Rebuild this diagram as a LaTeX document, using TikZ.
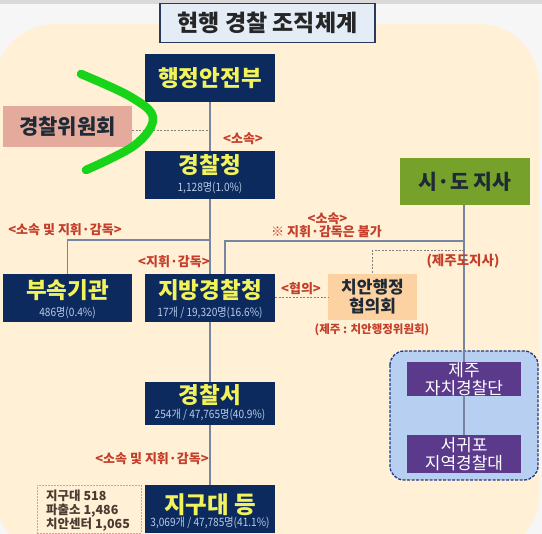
\documentclass[tikz,border=0pt]{standalone}
\usepackage{fontspec}
\usepackage{graphicx}
\setmainfont{Noto Sans CJK KR}
\definecolor{navyc}{HTML}{0C2A5E}
\definecolor{ylw}{HTML}{F2F25A}
\definecolor{subc}{HTML}{B8CBE8}
\definecolor{salmon}{HTML}{E4AA9C}
\definecolor{grn}{HTML}{76A22C}
\definecolor{orng}{HTML}{FDD2A2}
\definecolor{purp}{HTML}{5B3A8C}
\definecolor{jejubg}{HTML}{B7CFF0}
\definecolor{jejubd}{HTML}{1F3A8A}
\definecolor{redc}{HTML}{C43E2A}
\definecolor{linec}{HTML}{7585A2}
\definecolor{cream}{HTML}{FFF0D6}
\definecolor{pagebg}{HTML}{F6F6F6}
\definecolor{titlebg}{HTML}{E4ECF6}
\definecolor{titlebd}{HTML}{2A3A5A}
\definecolor{darkt}{HTML}{1F2A36}
\definecolor{marker}{HTML}{18D418}
\definecolor{notec}{HTML}{4A3A30}
\definecolor{notebd}{HTML}{D8A090}
\newcommand{\condtxt}[1]{\scalebox{0.88}[1]{#1}}
\tikzset{
  navybox/.style={fill=navyc, minimum width=130pt, minimum height=48pt, inner sep=0pt},
  maintxt/.style={text=ylw, font=\fontsize{22.5}{24}\selectfont\bfseries, inner sep=0pt},
  subtxt/.style={text=subc, font=\fontsize{11.5}{13}\selectfont, inner sep=0pt},
  lbl/.style={text=redc, font=\fontsize{13}{15}\selectfont\bfseries, inner sep=0pt},
  purpbox/.style={fill=purp, minimum width=114pt, inner sep=0pt, text=white, align=center, font=\fontsize{17}{17.5}\selectfont},
  conn/.style={draw=linec, line width=1.4pt},
  dconn/.style={draw=gray, line width=1pt, dash pattern=on 2pt off 1.5pt},
}
\begin{document}
\begin{tikzpicture}[x=1pt,y=-1pt]
\useasboundingbox (0,0) rectangle (542,534);
% background
\fill[pagebg] (0,0) rectangle (542,534);
\fill[gray!30] (0,0) rectangle (542,4);
\fill[cream, rounded corners=60pt] (-5,24) rectangle (539,555);
% title
\node[draw=titlebd, line width=1.2pt, fill=titlebg, minimum width=215pt, minimum height=39pt, inner sep=0pt, font=\fontsize{23}{25}\selectfont\bfseries, text=black!85] (title) at (267.5,23) {현행 경찰 조직체계};
% Jeju region
\draw[fill=jejubg, draw=jejubd, line width=1.3pt, dash pattern=on 3pt off 1.5pt, rounded corners=14pt] (390,351) rectangle (538,480);
% connector joints
\coordinate (jA) at (210,131);
\coordinate (jB) at (210,240);
\coordinate (jC) at (464,241);
\coordinate (jD) at (225,241);
\coordinate (jE) at (464,251);
\coordinate (jF) at (372,251);
% boxes
\node[navybox] (mois) at (210,78) {};
\node[maintxt] (moist) at (210,78) {행정안전부};
\node[fill=salmon, minimum width=129pt, minimum height=41pt, inner sep=0pt, text=darkt, font=\fontsize{21}{24}\selectfont\bfseries] (comm) at (67.5,126.5) {경찰위원회};
\node[navybox] (npa) at (210,175) {};
\node[maintxt] (npat) at (210,165) {경찰청};
\node[subtxt] (npas) at (210,188) {\condtxt{1,128명(1.0\%)}};
\node[fill=grn, minimum width=130pt, minimum height=47pt, inner sep=0pt, text=darkt, font=\fontsize{20.5}{24}\selectfont\bfseries] (gov) at (465,181.5) {시·도 지사};
\node[navybox, minimum width=129pt] (affil) at (67.5,298) {};
\node[maintxt] (affilt) at (67.5,290.5) {부속기관};
\node[subtxt] (affils) at (67.5,312.5) {\condtxt{486명(0.4\%)}};
\node[navybox] (reg) at (210,298) {};
\node[maintxt] (regt) at (210,290.5) {지방경찰청};
\node[subtxt] (regs) at (210,312.5) {\condtxt{17개 / 19,320명(16.6\%)}};
\node[fill=orng, minimum width=89pt, minimum height=46pt, inner sep=0pt, text=darkt, align=center, font=\fontsize{17}{19}\selectfont\bfseries] (council) at (372.5,297) {치안행정\\협의회};
\node[navybox, minimum height=43pt] (station) at (210,403.5) {};
\node[maintxt] (stationt) at (210,395) {경찰서};
\node[subtxt] (stations) at (210,415) {\condtxt{254개 / 47,765명(40.9\%)}};
\node[navybox] (local) at (210,509) {};
\node[maintxt, font=\fontsize{23.5}{25}\selectfont\bfseries] (localt) at (210,505) {지구대 등};
\node[subtxt] (locals) at (210,523) {\condtxt{3,069개 / 47,785명(41.1\%)}};
\node[purpbox, minimum height=34pt] (jeju1) at (464,379) {제주\\자치경찰단};
\node[purpbox, minimum height=38pt] (jeju2) at (464,454) {서귀포\\지역경찰대};
% note box
\node[draw=notebd, line width=0.8pt, dash pattern=on 2pt off 1pt, minimum width=104pt, minimum height=48pt, inner sep=0pt] (note) at (89,509) {};
\node[anchor=west, align=left, inner sep=0pt, text=notec, font=\fontsize{12.5}{14}\selectfont\bfseries] (notet) at (46,511) {지구대 518\\파출소 1,486\\치안센터 1,065};
% connectors
\draw[conn] (mois.south) -- (npa.north);
\draw[dconn] (comm.east |- jA) -- (jA);
\draw[conn] (npa.south) -- (reg.north);
\draw[conn] (jB) -| (affil.north);
\draw[conn] (gov.south -| jC) -- (jeju1.north -| jC);
\draw[conn] (jC) -- (jD) -- (jD |- reg.north);
\draw[dconn] (jE) -- (jF) -- (council.north -| jF);
\draw[dconn] (reg.east |- 0,298) -- (council.west |- 0,298);
\draw[conn] (reg.south) -- (station.north);
\draw[conn] (station.south) -- (local.north);
\draw[conn] (jeju1.south) -- (jeju2.north);
% labels
\node[lbl] (l1) at (243,139) {<소속>};
\node[lbl] (l2) at (65,230) {<소속 및 지휘·감독>};
\node[lbl] (l3) at (174,262) {<지휘·감독>};
\node[lbl] (l4) at (327.5,219) {<소속>};
\node[lbl] (l5) at (326.5,232) {※ 지휘·감독은 불가};
\node[lbl, font=\fontsize{13.5}{15}\selectfont\bfseries] (l6) at (463,261) {(제주도지사)};
\node[lbl] (l7) at (301,289) {<협의>};
\node[lbl, font=\fontsize{11.5}{13}\selectfont\bfseries] (l8) at (372,330) {(제주 : 치안행정위원회)};
\node[lbl] (l9) at (152,459) {<소속 및 지휘·감독>};
% marker stroke
\draw[marker, line width=8.5pt, line cap=round, line join=round] plot[smooth, tension=0.6] coordinates {(81,74) (131,97) (153,118) (135,145) (86,170)};
\end{tikzpicture}
\end{document}
